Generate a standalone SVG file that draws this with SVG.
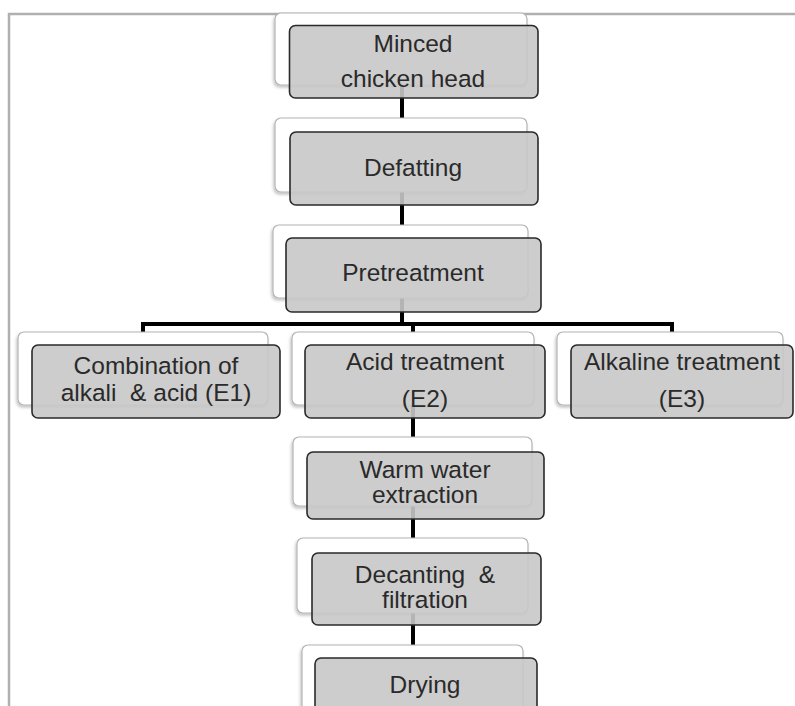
<svg xmlns="http://www.w3.org/2000/svg" width="795" height="706" viewBox="0 0 795 706">
<style>
.back{fill:#ffffff;stroke:#b4b4b4;stroke-width:1.2}
.front{fill:#c8c8c8;fill-opacity:0.9;stroke:#2a2a2a;stroke-width:1.6}
.conn{fill:none;stroke:#000;stroke-width:4;stroke-linejoin:miter}
text{font-family:"Liberation Sans",Arial,sans-serif;font-size:24.5px;fill:#2a2a2a;text-anchor:middle;white-space:pre}
</style>
<defs>
<filter id="sh" x="-10%" y="-10%" width="120%" height="130%">
<feDropShadow dx="-1" dy="2" stdDeviation="1.5" flood-color="#000" flood-opacity="0.25"/>
</filter>
</defs>
<rect x="0" y="0" width="795" height="706" fill="#fff"/>
<path d="M9 706 V14 H795" fill="none" stroke="#b0b0b0" stroke-width="2.5"/>
<g id="connectors">
<path class="conn" d="M402 85 V120"/>
<path class="conn" d="M402 192 V227"/>
<path class="conn" d="M402 298 V324 H143 V334"/>
<path class="conn" d="M402 324 H672 V334"/>
<path class="conn" d="M413 324 V334"/>
<path class="conn" d="M413 403 V439"/>
<path class="conn" d="M413 506 V540"/>
<path class="conn" d="M413 613 V647"/>
</g>
<g id="n1">
<rect class="back" x="275" y="13" width="252" height="72" rx="6" filter="url(#sh)"/>
<rect class="front" x="289.5" y="25.5" width="248.5" height="72.5" rx="6"/>
<text x="413" y="52">Minced</text>
<text x="413" y="87">chicken head</text>
</g>
<g id="n2">
<rect class="back" x="275" y="118" width="252" height="74" rx="6" filter="url(#sh)"/>
<rect class="front" x="290" y="132" width="248" height="73" rx="6"/>
<text x="413" y="176">Defatting</text>
</g>
<g id="n3">
<rect class="back" x="273" y="225" width="255" height="73" rx="6" filter="url(#sh)"/>
<rect class="front" x="286" y="238" width="255" height="74" rx="6"/>
<text x="413" y="281">Pretreatment</text>
</g>
<g id="e1">
<rect class="back" x="18" y="332" width="250" height="73" rx="6" filter="url(#sh)"/>
<rect class="front" x="32" y="345" width="248" height="73" rx="6"/>
<text x="156" y="374">Combination of</text>
<text x="156" y="401">alkali  &amp; acid (E1)</text>
</g>
<g id="e2">
<rect class="back" x="292" y="332" width="242" height="73" rx="6" filter="url(#sh)"/>
<rect class="front" x="305" y="345" width="240" height="73" rx="6"/>
<text x="425" y="370">Acid treatment</text>
<text x="425" y="407">(E2)</text>
</g>
<g id="e3">
<rect class="back" x="557" y="332" width="226" height="73" rx="6" filter="url(#sh)"/>
<rect class="front" x="571" y="345" width="222" height="73" rx="6"/>
<text x="682" y="370">Alkaline treatment</text>
<text x="682" y="407">(E3)</text>
</g>
<g id="n4">
<rect class="back" x="293" y="437" width="239" height="69" rx="6" filter="url(#sh)"/>
<rect class="front" x="307" y="452" width="237" height="67" rx="6"/>
<text x="425" y="478">Warm water</text>
<text x="425" y="503">extraction</text>
</g>
<g id="n5">
<rect class="back" x="297" y="538" width="231" height="75" rx="6" filter="url(#sh)"/>
<rect class="front" x="312" y="553" width="229" height="72" rx="6"/>
<text x="425" y="583">Decanting  &amp;</text>
<text x="425" y="608">filtration</text>
</g>
<g id="n6">
<rect class="back" x="302" y="645" width="221" height="75" rx="6" filter="url(#sh)"/>
<rect class="front" x="315" y="658" width="222" height="70" rx="6"/>
<text x="425" y="693">Drying</text>
</g>
</svg>
